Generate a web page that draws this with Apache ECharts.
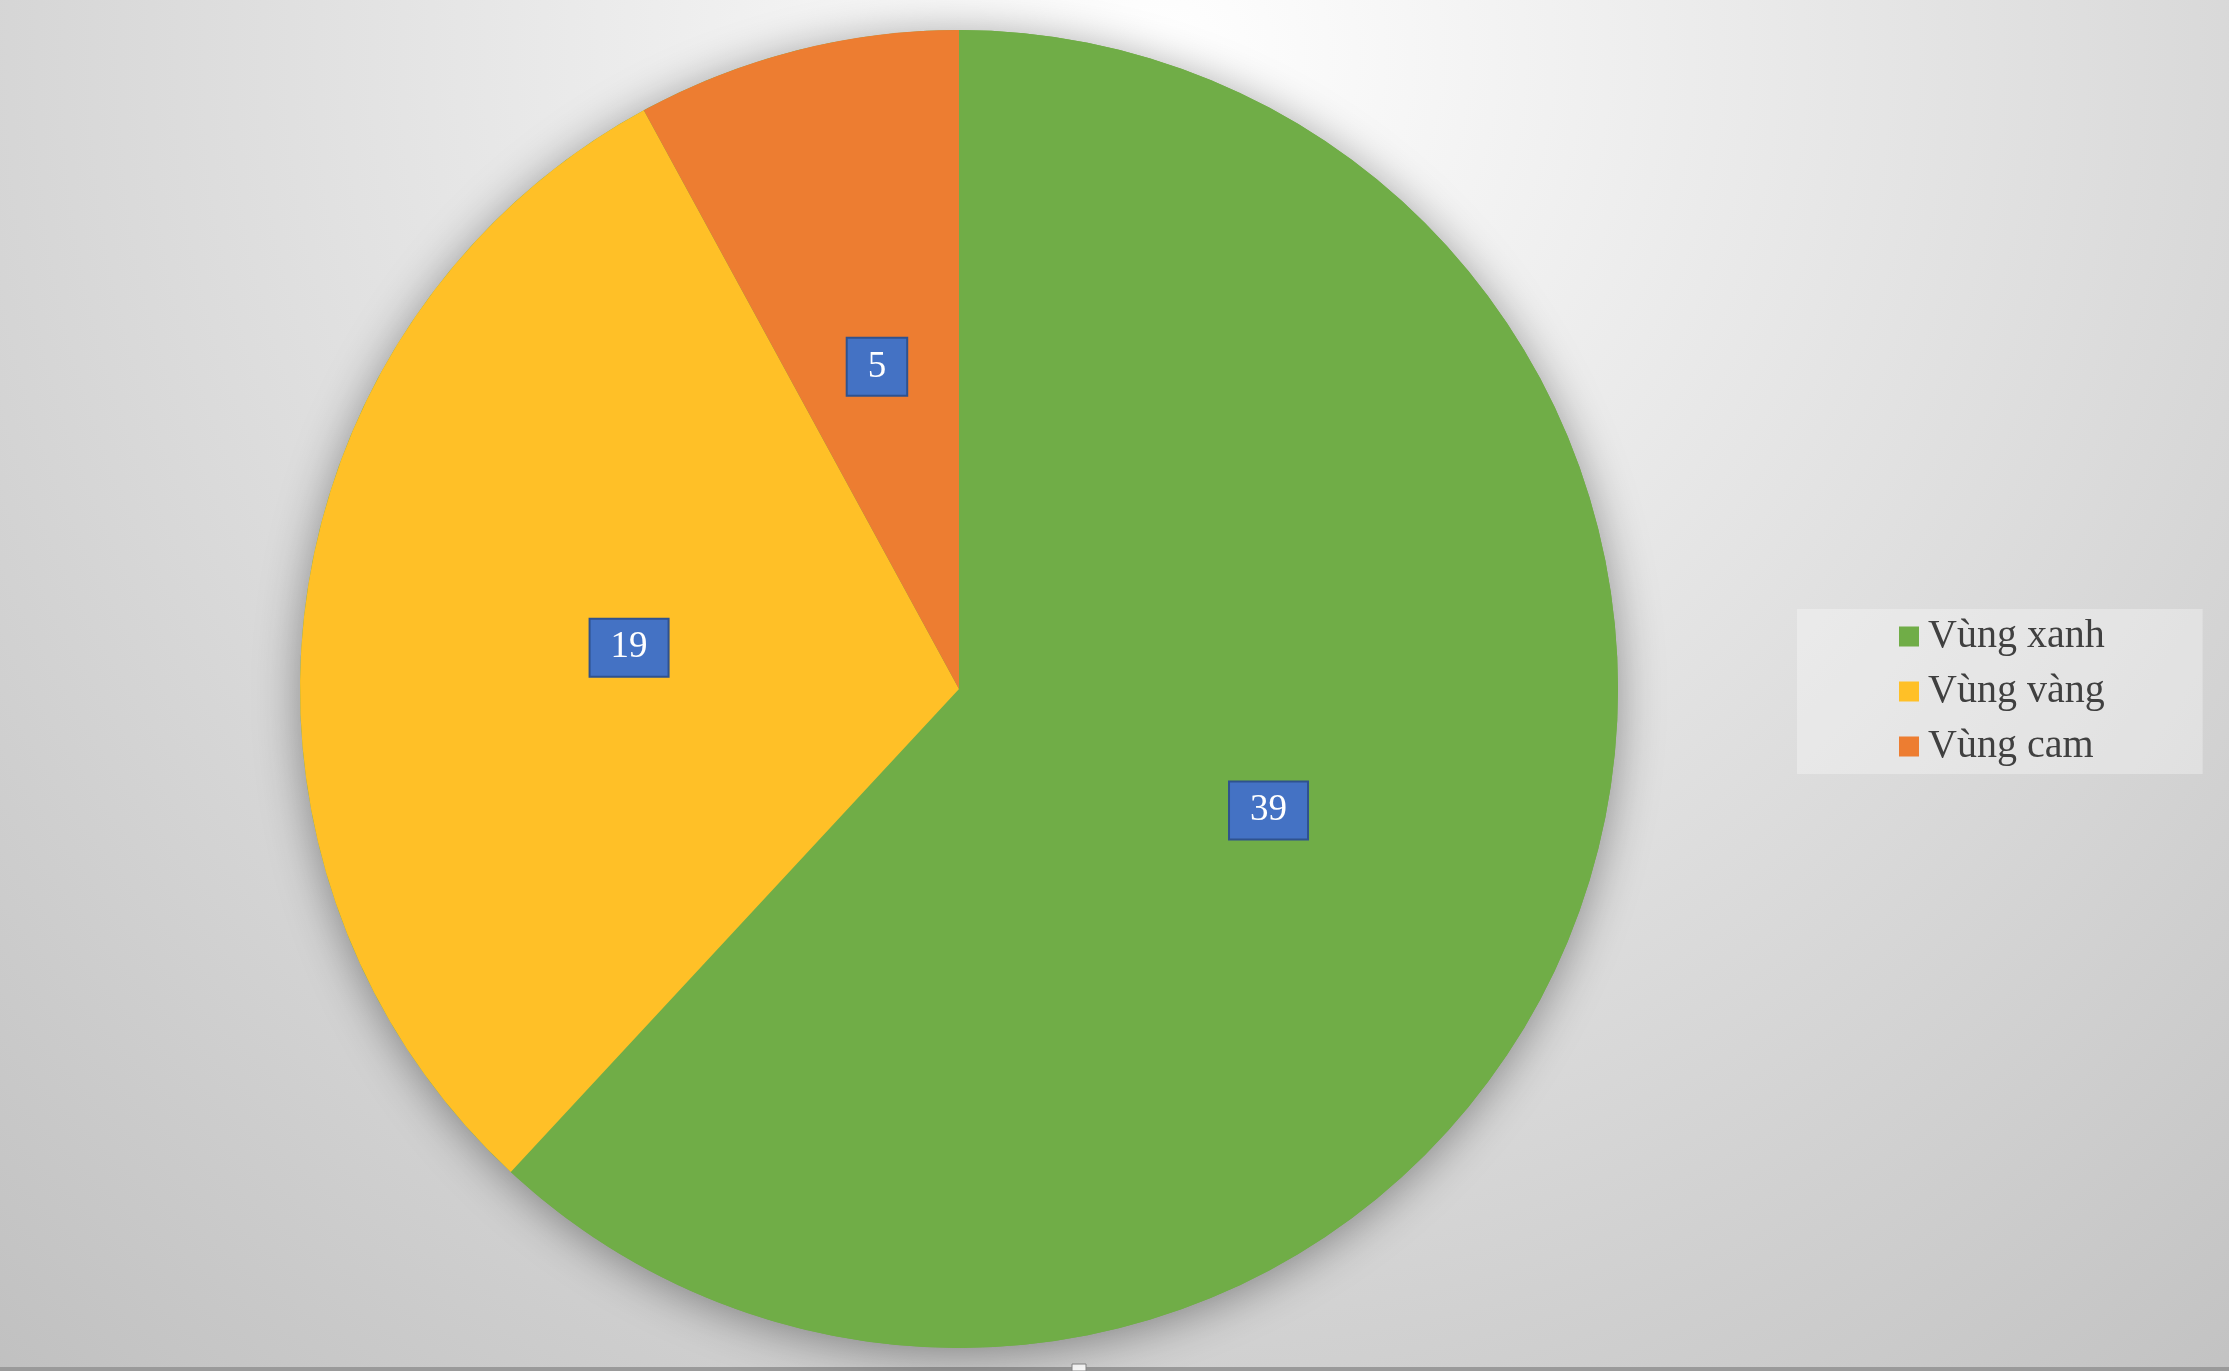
<!DOCTYPE html>
<html>
<head>
<meta charset="utf-8">
<script src="https://cdn.jsdelivr.net/npm/echarts@6/dist/echarts.min.js"></script>
<style>
html,body{margin:0;padding:0;width:2229px;height:1371px;overflow:hidden;}
#chart{width:2229px;height:1371px;}
</style>
</head>
<body>
<div id="chart"></div>
<script>
const categories = ['Vùng xanh', 'Vùng vàng', 'Vùng cam'];
const values = [39, 19, 5];
const colors = ['#70AD47', '#FFC027', '#ED7D31'];

const total = values.reduce((a, b) => a + b, 0);
const chart = echarts.init(document.getElementById('chart'));
const pieCenter = [959, 689];
const pieRadius = 659;

chart.setOption({
  animation: false,
  backgroundColor: {
    type: 'radial', x: 0.52, y: 0.04, r: 1.35,
    colorStops: [
      { offset: 0, color: '#ffffff' },
      { offset: 1, color: '#bdbdbd' }
    ]
  },
  legend: {
    data: categories,
    orient: 'vertical',
    left: 1797,
    top: 609,
    padding: [5, 98, 5, 102],
    itemWidth: 20,
    itemHeight: 20,
    itemGap: 10,
    icon: 'rect',
    backgroundColor: 'rgba(255,255,255,0.32)',
    textStyle: {
      fontFamily: 'Liberation Serif',
      fontSize: 40,
      lineHeight: 45,
      color: '#404040',
      padding: [0, 0, 0, 4]
    }
  },
  series: [
    {
      type: 'pie',
      silent: true,
      z: 1,
      center: pieCenter,
      radius: pieRadius,
      label: { show: false },
      labelLine: { show: false },
      itemStyle: {
        color: '#70AD47',
        shadowBlur: 45,
        shadowColor: 'rgba(0,0,0,0.38)',
        shadowOffsetY: 6
      },
      data: [{ name: '__bg', value: total }]
    },
    {
      type: 'pie',
      z: 2,
      center: pieCenter,
      radius: pieRadius,
      startAngle: 90,
      clockwise: true,
      data: categories.map((n, i) => ({ name: n, value: values[i], itemStyle: { color: colors[i] } })),
      label: {
        show: true,
        position: 'inside',
        formatter: '{c}',
        color: '#ffffff',
        fontFamily: 'Liberation Serif',
        fontSize: 37,
        lineHeight: 42,
        backgroundColor: '#4472C4',
        borderColor: '#2F528F',
        borderWidth: 2,
        padding: [7, 20]
      },
      labelLine: { show: false },
      emphasis: { disabled: true }
    }
  ],
  graphic: [
    { type: 'rect', shape: { x: 0, y: 1367, width: 2229, height: 4 }, style: { fill: '#9a9a9a' }, silent: true },
    { type: 'rect', shape: { x: 1072, y: 1364, width: 14, height: 7 }, style: { fill: '#ffffff', stroke: '#8a8a8a', lineWidth: 1 }, silent: true }
  ]
});
</script>
</body>
</html>
